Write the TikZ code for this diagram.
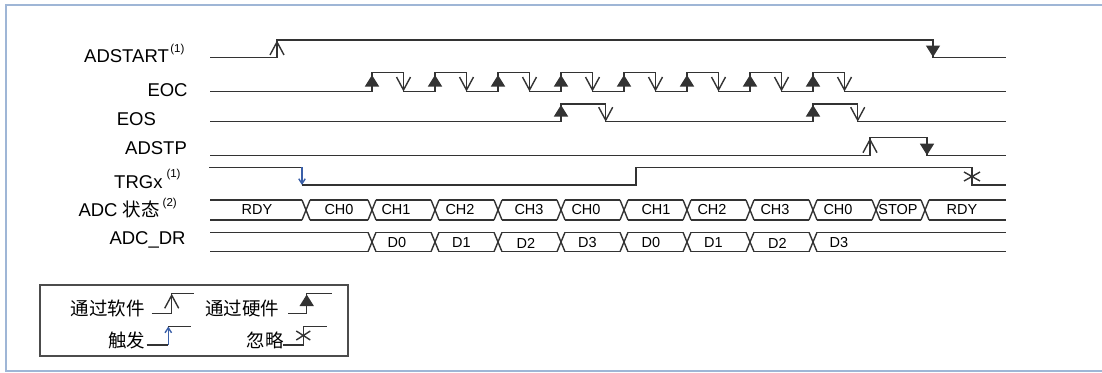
\documentclass[tikz,border=0pt]{standalone}
\usepackage{fontspec}
\setmainfont{Liberation Sans}
\newfontfamily\cjk{Noto Sans CJK SC}
\usetikzlibrary{arrows.meta}
\definecolor{trigblue}{HTML}{3A5FA8}
\definecolor{framecol}{HTML}{9FB6D6}
\newcommand\mysup[2]{\kern#1pt\raisebox{10.5pt}{\fontsize{11.5}{12}\selectfont #2}}
\begin{document}
\begin{tikzpicture}[x=1pt,y=-1pt,
  sig/.style={line width=1.4pt, draw=black!80},
  swarrow/.style={sig, -{Straight Barb[length=13pt,width=14pt]}},
  hwarrow/.style={sig, -{Triangle[length=11.5pt,width=14pt]}},
  trigarrow/.style={line width=1.4pt, draw=trigblue, -{Straight Barb[length=5pt,width=6.5pt]}},
  lbl/.style={anchor=base west, inner sep=0pt, font=\fontsize{18.5}{20}\selectfont},
  buslbl/.style={anchor=center, inner sep=0pt, font=\fontsize{14.5}{16}\selectfont},
  cjklbl/.style={anchor=base west, inner sep=0pt, font=\cjk\fontsize{18.5}{20}\selectfont},
  framestyle/.style={line width=1.8pt, draw=framecol},
  legendbox/.style={line width=1.2pt, draw=black!70}]
\useasboundingbox (0,0) rectangle (1102,372);
% outer frame
\draw[framestyle] (1102,5) -- (6,5) -- (6,371) -- (1102,371);

% signal labels
\node[lbl] (l-adstart) at (84,62.7) {ADSTART\mysup{1.5}{(1)}};
\node[lbl] (l-eoc) at (147.3,96) {EOC};
\node[lbl] (l-eos) at (116.7,125) {EOS};
\node[lbl] (l-adstp) at (125,154) {ADSTP};
\node[lbl] (l-trgx) at (114,188.3) {TRGx\mysup{4}{(1)}};
\node[lbl] (l-adc) at (78.3,216.7) {ADC {\cjk 状态}\mysup{3}{(2)}};
\node[lbl] (l-dr) at (109.3,244.5) {ADC\_DR};

% ADSTART
\draw[sig] (210,57.5) -- (277,57.5) -- (277,40) -- (933,40) -- (933,57.5) -- (1006,57.5);
\draw[swarrow] (277,57.5) -- (277,40.5);
\draw[hwarrow] (933,40) -- (933,57);

% EOC
\draw[sig] (210,91.5) foreach \k in {0,...,7} { -- ({372+63*\k},91.5) -- ({372+63*\k},72.5) -- ({403.5+63*\k},72.5) -- ({403.5+63*\k},91.5) } -- (1006,91.5);
\foreach \k in {0,...,7} {
  \draw[hwarrow] ({372+63*\k},91.5) -- ({372+63*\k},75);
  \draw[swarrow] ({403.5+63*\k},72.5) -- ({403.5+63*\k},91.5);
}

% EOS
\draw[sig] (210,121.7) -- (561,121.7) -- (561,104) -- (605.7,104) -- (605.7,121.7) -- (813,121.7) -- (813,104) -- (857.7,104) -- (857.7,121.7) -- (1006,121.7);
\draw[hwarrow] (561,121.7) -- (561,105);
\draw[hwarrow] (813,121.7) -- (813,105);
\draw[swarrow] (605.7,104) -- (605.7,121.7);
\draw[swarrow] (857.7,104) -- (857.7,121.7);

% ADSTP
\draw[sig] (210,155.7) -- (870,155.7) -- (870,137.7) -- (927,137.7) -- (927,155.7) -- (1006,155.7);
\draw[swarrow] (870,155.7) -- (870,138.2);
\draw[hwarrow] (927,137.7) -- (927,155.2);

% TRGx
\draw[sig] (209,167.3) -- (302,167.3);
\draw[trigarrow] (302,167.3) -- (302,185);
\draw[sig] (302,185) -- (636,185) -- (636,167.3) -- (972,167.3) -- (972,185) -- (1006,185);
\draw[sig] (964,172) -- (980,181) (964,181) -- (980,172);

% ADC state bus
\foreach \a/\b in {210/302, 310/368, 376/431, 439/494, 502/557, 565/620, 628/683, 691/746, 754/809, 817/872, 880/921, 929/1006}
  \draw[sig] (\a,200) -- (\b,200) (\a,220) -- (\b,220);
\foreach \c in {306,372,435,498,561,624,687,750,813,876,925}
  \draw[sig] (\c-4,200) -- (\c+4,220) (\c-4,220) -- (\c+4,200);
\foreach \x/\t [count=\i] in {257/RDY, 339/CH0, 396/CH1, 460/CH2, 529/CH3, 586/CH0, 656/CH1, 712/CH2, 775/CH3, 838/CH0, 898/STOP, 962/RDY}
  \node[buslbl] (s\i) at (\x,210) {\t};

% ADC_DR bus
\foreach \a/\b in {210/368, 376/431, 439/494, 502/557, 565/620, 628/683, 691/746, 754/809, 817/1006}
  \draw[sig] (\a,232.3) -- (\b,232.3) (\a,251.7) -- (\b,251.7);
\foreach \c in {372,435,498,561,624,687,750,813}
  \draw[sig] (\c-4,232.3) -- (\c+4,251.7) (\c-4,251.7) -- (\c+4,232.3);
\foreach \x/\t [count=\i] in {397/D0, 461.5/D1, 526/D2, 587.5/D3, 651/D0, 713.5/D1, 777.5/D2, 839/D3}
  \node[buslbl] (d\i) at (\x,243) {\t};

% legend
\draw[legendbox] (40,285) rectangle (348,356);
\node[cjklbl] (g1) at (70.7,315) {通过软件};
\node[cjklbl] (g2) at (205,315) {通过硬件};
\node[cjklbl] (g3) at (108,347) {触发};
\node[cjklbl] (g4) at (246.7,347) {忽略};
\draw[sig] (151.7,313.3) -- (171.7,313.3) -- (171.7,293.3) -- (194,293.3);
\draw[swarrow] (171.7,313.3) -- (171.7,293.8);
\draw[sig] (288.3,313.3) -- (306.7,313.3) -- (306.7,293.3) -- (331.7,293.3);
\draw[hwarrow] (306.7,313.3) -- (306.7,294.5);
\draw[sig] (146.7,345) -- (168.3,345);
\draw[trigarrow] (168.3,345) -- (168.3,326.5);
\draw[sig] (168.3,326.5) -- (190.7,326.5);
\draw[sig] (283.3,345) -- (303.3,345) -- (303.3,326.5) -- (326.7,326.5);
\draw[sig] (296.3,331) -- (310.3,340) (296.3,340) -- (310.3,331);
\end{tikzpicture}
\end{document}
